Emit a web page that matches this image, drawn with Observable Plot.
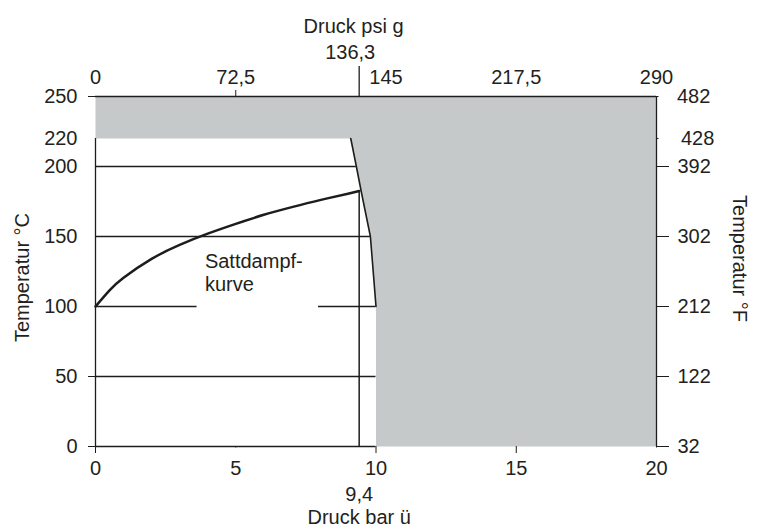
<!DOCTYPE html>
<html><head><meta charset="utf-8">
<script src="https://cdn.jsdelivr.net/npm/d3@7"></script>
<script src="https://cdn.jsdelivr.net/npm/@observablehq/plot@0.6"></script>
<style>body{margin:0;background:#fff}#chart svg{display:block}</style>
</head><body><div id="chart"></div>
<script>
// ---- data ----
const barTicks = [0, 5, 10, 15, 20];
const barLabels = ["0", "5", "10", "15", "20"];
const psiLabels = ["0", "72,5", "145", "217,5", "290"];
const celsiusTicks = [0, 50, 100, 150, 200, 220, 250];
const celsiusLabels = ["0", "50", "100", "150", "200", "220", "250"];
const fahrenheitLabels = ["32", "122", "212", "302", "392", "428", "482"];

// saturated steam curve (bar g, °C)
const curveBar = [0, 0.5, 1, 2, 3, 4, 5, 6, 7, 8, 9, 9.4];
const curveTemp = [100, 111.5, 120.5, 134, 144, 152, 159, 165.5, 171, 176, 180.5, 182.5];

// shaded (not permitted) region outline
const regionBar = [0, 20, 20, 10, 10, 9.8, 9.47, 9.3, 9.1, 0];
const regionTemp = [250, 250, 0, 0, 100, 150, 182.5, 200, 220, 220];

// horizontal guide lines (°C, from bar, to bar)
const gridTemp = [50, 100, 100, 150, 200];
const gridFrom = [0, 0, 7.95, 0, 0];
const gridTo = [10, 3.62, 10, 9.8, 9.3];

// marked operating point
const markBar = 9.4;
const markTemp = 182.5;
const markBarLabel = "9,4";
const markPsiLabel = "136,3";

const curveLabel = "Sattdampf-\nkurve";
const xLabelBottom = "Druck bar ü";
const xLabelTop = "Druck psi g";
const yLabelLeft = "Temperatur °C";
const yLabelRight = "Temperatur °F";

// ---- derived tables ----
const curve = curveBar.map((x, i) => ({x, y: curveTemp[i]}));
const region = regionBar.map((x, i) => ({x, y: regionTemp[i]}));
const boundary = region.slice(4, 9);
const grid = gridTemp.map((y, i) => ({y, x1: gridFrom[i], x2: gridTo[i]}));

const INK = "#1d1d1b";
const TXT = "#231f20";
const GRAY = "#c6c9ca";
const FONT = "Liberation Sans, Arial, Helvetica, sans-serif";
const FS = 20;
const barFmt = d => barLabels[barTicks.indexOf(d)];
const psiFmt = d => psiLabels[barTicks.indexOf(d)];
const cFmt = d => celsiusLabels[celsiusTicks.indexOf(d)];
const fFmt = d => fahrenheitLabels[celsiusTicks.indexOf(d)];

const chart = Plot.plot({
  width: 762,
  height: 527,
  marginLeft: 95,
  marginRight: 106,
  marginTop: 96,
  marginBottom: 81,
  style: {fontFamily: FONT, fontSize: FS + "px", color: TXT, background: "#fff", overflow: "visible"},
  x: {domain: [0, 20]},
  y: {domain: [0, 250]},
  marks: [
    Plot.line(region, {x: "x", y: "y", fill: GRAY, stroke: "none", curve: "linear"}),
    Plot.line(boundary, {x: "x", y: "y", stroke: INK, strokeWidth: 1.6}),
    Plot.ruleY(grid, {y: "y", x1: "x1", x2: "x2", stroke: INK, strokeWidth: 1.3}),
    // frame pieces
    Plot.ruleY([250], {x1: 0, x2: 20, stroke: INK, strokeWidth: 1.3}),
    Plot.ruleY([0], {x1: 0, x2: 10, stroke: INK, strokeWidth: 1.3}),
    Plot.ruleX([0], {y1: 0, y2: 220, stroke: INK, strokeWidth: 1.3}),
    Plot.ruleX([20], {y1: 0, y2: 250, stroke: INK, strokeWidth: 1.3}),
    Plot.ruleX([markBar], {y1: 0, y2: markTemp, stroke: INK, strokeWidth: 1.5}),
    Plot.line(curve, {x: "x", y: "y", stroke: INK, strokeWidth: 2.5, curve: "natural"}),
    // left axis
    Plot.axisY(celsiusTicks, {anchor: "left", tickSize: 0, tickPadding: 18, tickFormat: cFmt, fontSize: FS, fill: TXT, label: null}),
    Plot.axisY([0, 50, 250], {anchor: "left", tickSize: 7, text: null, stroke: INK, label: null}),
    // right axis
    Plot.axisY(celsiusTicks.slice(0, 5), {anchor: "right", tickSize: 12, tickPadding: 9, tickFormat: fFmt, fontSize: FS, fill: TXT, stroke: INK, label: null}),
    Plot.axisY([250], {anchor: "right", tickSize: 1.5, tickPadding: 19, tickFormat: fFmt, fontSize: FS, fill: TXT, stroke: INK, label: null}),
    Plot.axisY([220], {anchor: "right", tickSize: 1.5, tickPadding: 23, tickFormat: fFmt, fontSize: FS, fill: TXT, stroke: INK, label: null}),
    // bottom axis
    Plot.axisX(barTicks, {anchor: "bottom", tickSize: 0, tickPadding: 14, tickFormat: barFmt, fontSize: FS, fill: TXT, label: null}),
    Plot.axisX([0, 10, 15], {anchor: "bottom", tickSize: 7, text: null, stroke: INK, label: null}),
    Plot.axisX([5, 20], {anchor: "bottom", tickSize: 1.5, text: null, stroke: INK, label: null}),
    // top axis (psi)
    Plot.axisX([0, 5, 15, 20], {anchor: "top", tickSize: 0, tickPadding: 13, tickFormat: psiFmt, fontSize: FS, fill: TXT, label: null}),
    Plot.axisX([10], {anchor: "top", tickSize: 0, tickPadding: 13, dx: 10, tickFormat: psiFmt, fontSize: FS, fill: TXT, label: null}),
    Plot.axisX([5], {anchor: "top", tickSize: 7, text: null, stroke: INK, label: null}),
    Plot.axisX([markBar], {anchor: "top", tickSize: 31, text: null, stroke: INK, strokeWidth: 1.3, label: null}),
    // annotation texts
    Plot.text([markPsiLabel], {x: markBar, frameAnchor: "top", dy: -38, dx: -9, lineAnchor: "bottom", fontSize: FS, fill: TXT}),
    Plot.text([xLabelTop], {x: 9.2, frameAnchor: "top", dy: -64, lineAnchor: "bottom", fontSize: FS, fill: TXT}),
    Plot.text([markBarLabel], {x: markBar, frameAnchor: "bottom", dy: 54, lineAnchor: "bottom", fontSize: FS, fill: TXT}),
    Plot.text([xLabelBottom], {x: markBar, frameAnchor: "bottom", dy: 77, lineAnchor: "bottom", fontSize: FS, fill: TXT}),
    Plot.text([curveLabel], {x: 3.9, y: 139.4, textAnchor: "start", lineAnchor: "top", lineHeight: 1.15, fontSize: FS, fill: TXT}),
    Plot.text([yLabelLeft], {x: -2.6, y: 120.7, rotate: -90, fontSize: FS, fill: TXT}),
    Plot.text([yLabelRight], {x: 22.96, y: 134.3, rotate: 90, fontSize: FS, fill: TXT})
  ]
});
document.getElementById("chart").appendChild(chart);
</script>
</body></html>
